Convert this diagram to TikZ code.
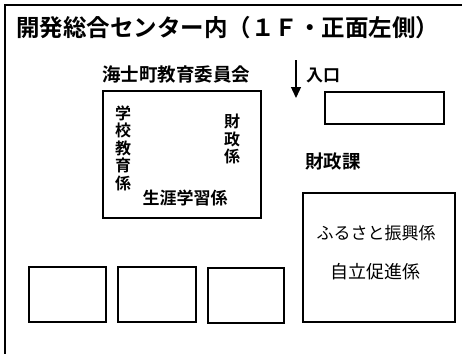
\documentclass[tikz,border=0pt]{standalone}
\usepackage{fontspec}
\newfontfamily\cjk{Noto Sans CJK JP}[BoldFont={Noto Sans CJK JP Bold}]
\usetikzlibrary{arrows.meta}
\begin{document}
\begin{tikzpicture}[x=1pt,y=-1pt,
  room/.style={draw=black,line width=1.3pt},
  lbl/.style={inner sep=0pt,font=\cjk\fontsize{17}{18}\selectfont},
  vlbl/.style={inner sep=0pt,align=center,font=\cjk\bfseries\fontsize{16}{17.5}\selectfont}]
\useasboundingbox (0,0) rectangle (462,353);
\fill[white] (0,0) rectangle (462,353);
% outer frame (open to the right and bottom)
\draw[line width=1.5pt] (5,360) -- (5,5) -- (470,5);
% title
\node[inner sep=0pt,anchor=west,font=\cjk\bfseries\fontsize{23.5}{24}\selectfont] (title) at (16,28) {開発総合センター内（１Ｆ・正面左側）};
% board of education
\node[lbl,anchor=west,font=\cjk\bfseries\fontsize{18.5}{19}\selectfont] (boe) at (102,75) {海士町教育委員会};
\draw[room] (103,91) rectangle (261,218);
\node[vlbl] (gakko) at (123,148) {学\\校\\教\\育\\係};
\node[vlbl] (zaisei) at (232,139) {財\\政\\係};
\node[lbl,font=\cjk\bfseries\fontsize{17}{18}\selectfont] (shogai) at (185,198) {生涯学習係};
% entrance
\coordinate (entTop) at (296,60);
\coordinate (entTip) at (296,98);
\draw[line width=1.3pt,-{Triangle[length=11pt,width=10pt]}] (entTop) -- (entTip);
\node[lbl,anchor=west,font=\cjk\bfseries\fontsize{17}{18}\selectfont] (iriguchi) at (306,75) {入口};
\draw[room] (325,92) rectangle (444,124);
% finance section
\node[lbl,anchor=west,font=\cjk\bfseries\fontsize{18.5}{19}\selectfont] (zaiseika) at (305,161) {財政課};
\draw[room] (303,193) rectangle (455,322);
\node[lbl] (furusato) at (376,233) {ふるさと振興係};
\node[lbl,font=\cjk\fontsize{18}{19}\selectfont] (jiritsu) at (375,272) {自立促進係};
% small boxes
\draw[room] (29,267) rectangle (106,322);
\draw[room] (118,267) rectangle (196,322);
\draw[room] (208,268) rectangle (284,323);
\end{tikzpicture}
\end{document}
